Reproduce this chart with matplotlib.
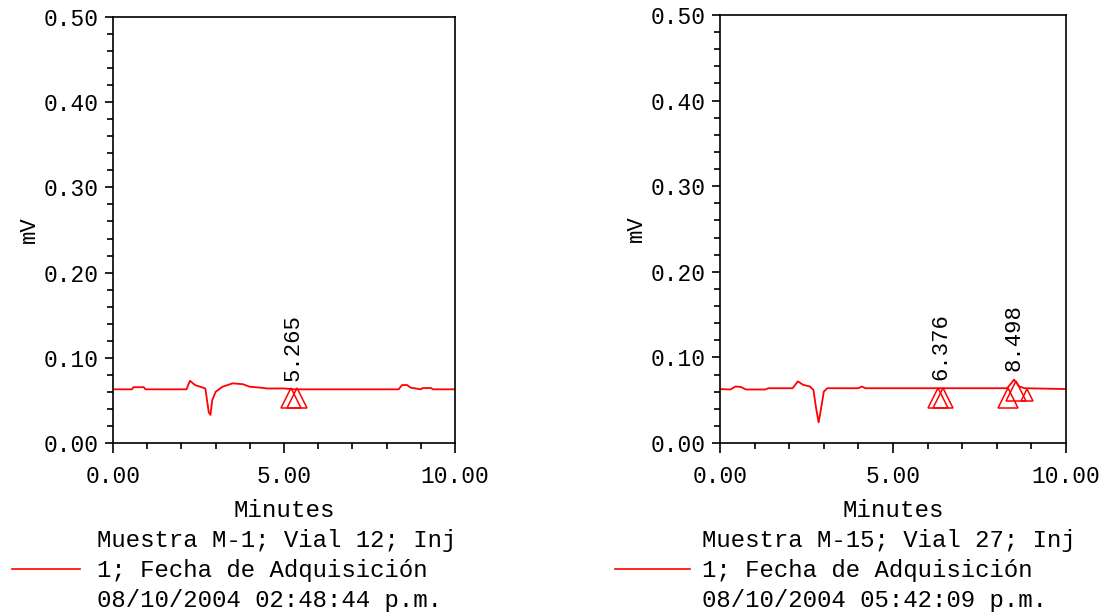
import matplotlib as mpl
mpl.use('Agg')
import matplotlib.pyplot as plt
import numpy as np
from matplotlib.ticker import MultipleLocator, FormatStrFormatter

plt.rcParams['font.family'] = ['Liberation Mono', 'DejaVu Sans Mono']

# left chromatogram (Muestra M-1)
t1 = [0.0, 0.55, 0.6, 0.9, 0.95, 2.15, 2.25, 2.4, 2.55, 2.7, 2.75, 2.8, 2.85, 2.9, 3.0,
      3.2, 3.5, 3.8, 4.0, 4.3, 4.5, 5.0, 5.3, 6.0, 8.35, 8.45, 8.6, 8.7, 9.0, 9.05, 9.3, 9.35, 10.0]
v1 = [0.063, 0.063, 0.0655, 0.0655, 0.063, 0.063, 0.073, 0.068, 0.066, 0.064, 0.05, 0.036, 0.033,
      0.05, 0.06, 0.066, 0.070, 0.069, 0.066, 0.065, 0.064, 0.064, 0.063, 0.063, 0.063, 0.068,
      0.068, 0.065, 0.063, 0.0645, 0.0645, 0.063, 0.063]
peaks1 = [5.265]
marks1_t = [5.2, 5.38]
marks1_v = [0.053, 0.053]

# right chromatogram (Muestra M-15)
t2 = [0.0, 0.3, 0.45, 0.6, 0.75, 1.3, 1.4, 2.1, 2.25, 2.4, 2.6, 2.7, 2.78, 2.85, 2.92, 3.0,
      3.1, 4.0, 4.1, 4.2, 5.0, 8.3, 8.5, 8.65, 8.8, 10.0]
v2 = [0.063, 0.0625, 0.066, 0.0655, 0.0625, 0.0625, 0.064, 0.064, 0.072, 0.068, 0.066, 0.062,
      0.04, 0.024, 0.04, 0.060, 0.064, 0.064, 0.066, 0.064, 0.064, 0.064, 0.074, 0.066, 0.064, 0.063]
peaks2 = [6.376, 8.498]
marks2_t = [6.3, 6.45, 8.33, 8.55]
marks2_v = [0.053, 0.053, 0.053, 0.061]
small2_t = [8.87]
small2_v = [0.056]

legend1 = ['Muestra M-1; Vial 12; Inj', '1; Fecha de Adquisición', '08/10/2004 02:48:44 p.m.']
legend2 = ['Muestra M-15; Vial 27; Inj', '1; Fecha de Adquisición', '08/10/2004 05:42:09 p.m.']

W, H = 1107, 613
fig = plt.figure(figsize=(W / 100, H / 100), dpi=100)
red = '#ff0000'


def panel(left, top, right, bottom, t, v, peaks, mt, mv, st=None, sv=None):
    ax = fig.add_axes([left / W, 1 - bottom / H, (right - left) / W, (bottom - top) / H])
    ax.plot(t, v, color=red, lw=1.3)
    ax.plot(mt, mv, linestyle='none', marker='^', ms=14, mfc='none', mec=red, mew=1.1)
    if st:
        ax.plot(st, sv, linestyle='none', marker='^', ms=8, mfc='none', mec=red, mew=1.1)
    for p in peaks:
        ax.text(p, np.interp(p, t, v) + 0.01, f'{p:.3f}', rotation=90,
                ha='center', va='bottom', fontsize=16)
    ax.set_xlim(0, 10)
    ax.set_ylim(0, 0.5)
    ax.xaxis.set_major_locator(MultipleLocator(5))
    ax.xaxis.set_minor_locator(MultipleLocator(1))
    ax.yaxis.set_major_locator(MultipleLocator(0.1))
    ax.yaxis.set_minor_locator(MultipleLocator(0.02))
    ax.xaxis.set_major_formatter(FormatStrFormatter('%.2f'))
    ax.yaxis.set_major_formatter(FormatStrFormatter('%.2f'))
    ax.tick_params(which='both', direction='out', labelsize=16.5, width=1.2)
    ax.tick_params(axis='x', which='major', length=7, pad=9)
    ax.tick_params(axis='x', which='minor', length=4)
    ax.tick_params(axis='y', which='major', length=6, pad=4)
    ax.tick_params(axis='y', which='minor', length=4.5)
    for s in ax.spines.values():
        s.set_linewidth(1.2)
    ax.set_xlabel('Minutes', fontsize=17.4, labelpad=8)
    ax.set_ylabel('mV', fontsize=16, labelpad=3)
    return ax


panel(113, 17, 455, 443, t1, v1, peaks1, marks1_t, marks1_v)
panel(720, 15, 1066, 443, t2, v2, peaks2, marks2_t, marks2_v, small2_t, small2_v)


def legend(x0, x1, tx, lines):
    fig.add_artist(plt.Line2D([x0 / W, x1 / W], [1 - 569 / H] * 2, color=red, lw=1.2))
    for i, s in enumerate(lines):
        fig.text(tx / W, 1 - (540 + 30 * i) / H, s, fontsize=17.3, va='center', ha='left')


legend(12, 80, 97, legend1)
legend(615, 690, 702, legend2)

fig.savefig('out.png', dpi=100)
